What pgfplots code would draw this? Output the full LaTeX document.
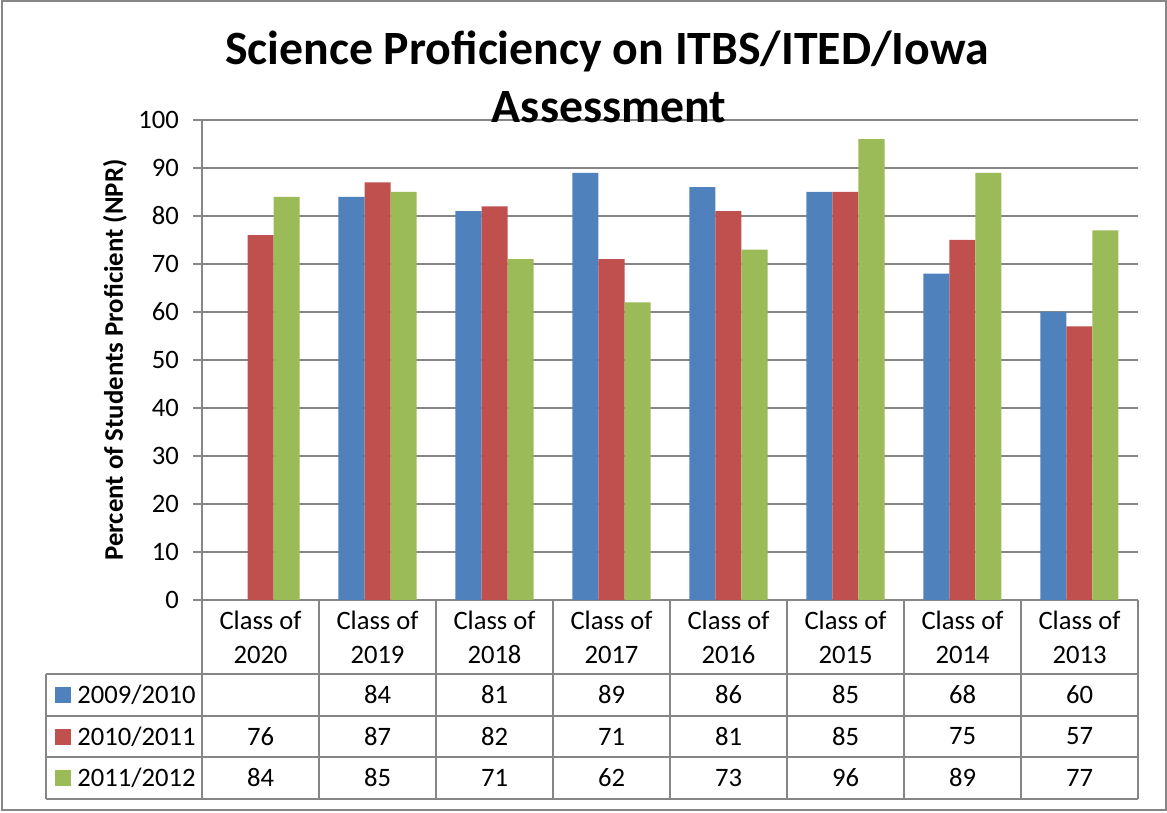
\documentclass[border=0pt]{standalone}
\usepackage{pgfplots}
\pgfplotsset{compat=1.18}
\usepackage{pgfplotstable}
\usepackage{fontspec}
\setmainfont{Carlito}
\definecolor{sblue}{HTML}{4F81BD}
\definecolor{sred}{HTML}{C0504D}
\definecolor{sgreen}{HTML}{9BBB59}
\definecolor{lgray}{HTML}{868686}

\pgfplotstableread{
x  a    b   c
0  nan  76  84
1  84   87  85
2  81   82  71
3  89   71  62
4  86   81  73
5  85   85  96
6  68   75  89
7  60   57  77
}\datatable

\begin{document}
\begin{tikzpicture}
\begin{axis}[
  at={(0,0)}, anchor=south west,
  scale only axis,
  width=468pt, height=240pt,
  ymin=0, ymax=100, ytick={0,10,...,100},
  xmin=-0.5, xmax=7.5,
  xtick=\empty,
  ybar=0pt, bar width=13pt,
  axis x line*=bottom, axis y line*=left,
  axis line style={lgray, line width=0.75pt, -},
  ymajorgrids,
  grid style={lgray, line width=0.75pt},
  major tick style={lgray, line width=0.75pt},
  tick align=outside, major tick length=4.5pt,
  yticklabel style={font=\fontsize{13.3}{15}\selectfont, xshift=-3.5pt},
  /pgf/number format/assume math mode=true,
  clip=false,
]
\addplot[fill=sblue, draw=none] table[x=x, y=a] {\datatable};
\addplot[fill=sred, draw=none] table[x=x, y=b] {\datatable};
\addplot[fill=sgreen, draw=none] table[x=x, y=c] {\datatable};
\end{axis}
\begin{scope}[shift={(-101pt,300pt)}, x=0.5pt, y=-0.5pt]
  % outer border
  \draw[lgray, line width=0.75pt] (2,1) rectangle (1166,810);
  \path (0,0) (1167,813);
  % title
  \node[font=\bfseries\fontsize{23.9}{28}\selectfont, anchor=base] at (607,65) {Science Proficiency on ITBS/ITED/Iowa};
  \node[font=\bfseries\fontsize{23.9}{28}\selectfont, anchor=base] at (609,123) {Assessment};
  % y label
  \node[rotate=90, font=\bfseries\fontsize{13.4}{15}\selectfont] at (115,360) {Percent of Students Proficient (NPR)};
  % table lines
  \foreach \yy in {674,716,757,799} \draw[lgray, line width=0.75pt] (46,\yy) -- (1138,\yy);
  \draw[lgray, line width=0.75pt] (46,674) -- (46,799);
  \foreach \k in {0,...,8} \draw[lgray, line width=0.75pt] ({202+117*\k},600) -- ({202+117*\k},799);
  % header
  \foreach \yr [count=\i from 0] in {2020,2019,2018,2017,2016,2015,2014,2013}
    \node[font=\fontsize{13.3}{17}\selectfont, align=center] at ({260.5+117*\i},637) {Class of\\\yr};
  % legend keys
  \fill[sblue] (55,687) rectangle (71,703);
  \fill[sred] (55,729) rectangle (71,745);
  \fill[sgreen] (55,770) rectangle (71,786);
  \node[font=\fontsize{13.3}{15}\selectfont, anchor=west, inner sep=0pt] at (77,695) {2009/2010};
  \node[font=\fontsize{13.3}{15}\selectfont, anchor=west, inner sep=0pt] at (77,736.5) {2010/2011};
  \node[font=\fontsize{13.3}{15}\selectfont, anchor=west, inner sep=0pt] at (77,778) {2011/2012};
  % values
  \foreach \v [count=\i from 1] in {84,81,89,86,85,68,60}
    \node[font=\fontsize{13.3}{15}\selectfont] at ({260.5+117*\i},695) {\v};
  \foreach \v [count=\i from 0] in {76,87,82,71,81,85,75,57}
    \node[font=\fontsize{13.3}{15}\selectfont] at ({260.5+117*\i},736.5) {\v};
  \foreach \v [count=\i from 0] in {84,85,71,62,73,96,89,77}
    \node[font=\fontsize{13.3}{15}\selectfont] at ({260.5+117*\i},778) {\v};
\end{scope}
\end{tikzpicture}
\end{document}
